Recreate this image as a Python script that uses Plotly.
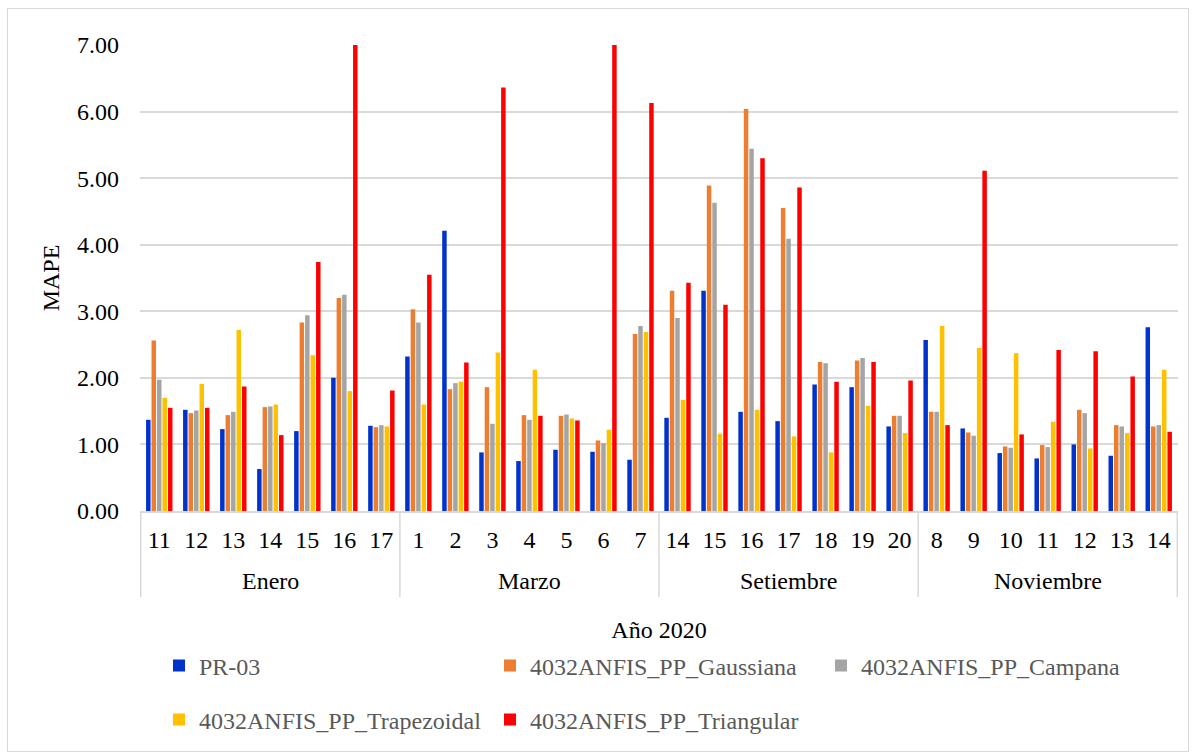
import plotly.graph_objects as go

# Days evaluated in each month of 2020
months = ["Enero", "Marzo", "Setiembre", "Noviembre"]
days = [
    ["11", "12", "13", "14", "15", "16", "17"],
    ["1", "2", "3", "4", "5", "6", "7"],
    ["14", "15", "16", "17", "18", "19", "20"],
    ["8", "9", "10", "11", "12", "13", "14"],
]

# MAPE per model, in the same order as the days above
pr03 = [1.37, 1.52, 1.23, 0.63, 1.20, 2.00, 1.28,
        2.32, 4.21, 0.88, 0.75, 0.92, 0.89, 0.77,
        1.40, 3.31, 1.49, 1.35, 1.90, 1.86, 1.27,
        2.57, 1.24, 0.87, 0.79, 1.00, 0.83, 2.76]
gaussiana = [2.56, 1.47, 1.44, 1.56, 2.83, 3.20, 1.26,
             3.03, 1.83, 1.86, 1.44, 1.43, 1.06, 2.66,
             3.31, 4.89, 6.04, 4.55, 2.24, 2.26, 1.43,
             1.49, 1.18, 0.97, 0.99, 1.52, 1.29, 1.27]
campana = [1.97, 1.51, 1.49, 1.57, 2.94, 3.25, 1.29,
           2.83, 1.92, 1.31, 1.37, 1.45, 1.02, 2.78,
           2.90, 4.63, 5.44, 4.09, 2.22, 2.30, 1.43,
           1.49, 1.13, 0.95, 0.96, 1.47, 1.27, 1.29]
trapezoidal = [1.70, 1.91, 2.72, 1.60, 2.34, 1.80, 1.27,
               1.60, 1.94, 2.38, 2.12, 1.39, 1.22, 2.69,
               1.67, 1.16, 1.52, 1.12, 0.88, 1.58, 1.17,
               2.78, 2.45, 2.37, 1.34, 0.94, 1.17, 2.12]
triangular = [1.55, 1.55, 1.87, 1.14, 3.74, 7.00, 1.81,
              3.55, 2.23, 6.36, 1.43, 1.36, 7.00, 6.13,
              3.43, 3.10, 5.30, 4.86, 1.94, 2.24, 1.96,
              1.29, 5.11, 1.15, 2.42, 2.40, 2.02, 1.19]

y_ticks = [0, 1, 2, 3, 4, 5, 6, 7]

series = [
    ("PR-03", pr03, "#0033CC", "legend"),
    ("4032ANFIS_PP_Gaussiana", gaussiana, "#ED7D31", "legend"),
    ("4032ANFIS_PP_Campana", campana, "#A5A5A5", "legend"),
    ("4032ANFIS_PP_Trapezoidal", trapezoidal, "#FFC000", "legend2"),
    ("4032ANFIS_PP_Triangular", triangular, "#FF0000", "legend2"),
]

# One category per (month, day); the axis shows only the day number
x_keys = [f"{m} {d}" for m, ds in zip(months, days) for d in ds]
x_text = [d for ds in days for d in ds]

FONT = "Times New Roman, Liberation Serif, serif"
GRID = "#D9D9D9"
W, H = 1194, 755
ML, MR, MT, MB = 140, 16, 45, 244
PW, PH = W - ML - MR, H - MT - MB


def px_x(p):
    return (p - ML) / PW


def px_y(p):
    return 1 - (p - MT) / PH


fig = go.Figure()
for name, vals, color, leg in series:
    fig.add_trace(go.Bar(
        x=x_keys, y=vals, name=name,
        marker=dict(color=color, line=dict(width=0)),
        legend=leg,
    ))

# Month labels centred under each group and divider lines between groups
annotations, shapes = [], []
start = 0
bounds = [-0.5]
for m, ds in zip(months, days):
    end = start + len(ds) - 1
    annotations.append(dict(
        x=(start + end) / 2, xref="x", y=px_y(581), yref="paper",
        text=m, showarrow=False, xanchor="center", yanchor="middle",
        font=dict(family=FONT, size=24, color="#000000"),
    ))
    start = end + 1
    bounds.append(end + 0.5)
for b in bounds:
    shapes.append(dict(
        type="line", xref="x", yref="paper", x0=b, x1=b, y0=0, y1=px_y(597),
        line=dict(color=GRID, width=1.5),
    ))

# Outer frame of the chart
shapes.append(dict(
    type="rect", xref="paper", yref="paper",
    x0=px_x(7.5), x1=px_x(1188.5), y0=px_y(751.5), y1=px_y(8.5),
    line=dict(color=GRID, width=1), fillcolor="rgba(0,0,0,0)", layer="below",
))

legend_common = dict(
    orientation="h", xanchor="left", yanchor="middle",
    entrywidth=286, entrywidthmode="pixels", itemwidth=30,
    font=dict(family=FONT, size=24, color="#595959"),
    bgcolor="rgba(0,0,0,0)", traceorder="normal",
)

fig.update_layout(
    width=W, height=H,
    margin=dict(l=ML, r=MR, t=MT, b=MB, autoexpand=False),
    paper_bgcolor="white", plot_bgcolor="white",
    font=dict(family=FONT, size=24, color="#000000"),
    barmode="group", bargap=0.26, bargroupgap=0.18,
    legend=dict(x=px_x(159), y=px_y(666), **legend_common),
    legend2=dict(x=px_x(159), y=px_y(720), **legend_common),
    showlegend=True,
    xaxis=dict(
        type="category", tickvals=x_keys, ticktext=x_text, tickangle=0,
        showgrid=False, showline=True, linecolor=GRID, linewidth=1.5,
        ticks="", ticklabelstandoff=6,
        tickfont=dict(family=FONT, size=24, color="#000000"),
        title=dict(text="Año 2020", font=dict(family=FONT, size=24, color="#000000"), standoff=70),
        automargin=False,
    ),
    yaxis=dict(
        range=[0, 7], tickvals=y_ticks, tickformat=".2f",
        showgrid=True, gridcolor=GRID, gridwidth=1.5,
        zeroline=False, showline=False,
        tickfont=dict(family=FONT, size=24, color="#000000"),
        ticklabelstandoff=20,
        title=dict(text="MAPE", font=dict(family=FONT, size=24, color="#000000"), standoff=10),
        automargin=False,
    ),
    annotations=annotations,
    shapes=shapes,
)

fig.write_html("out.html")
